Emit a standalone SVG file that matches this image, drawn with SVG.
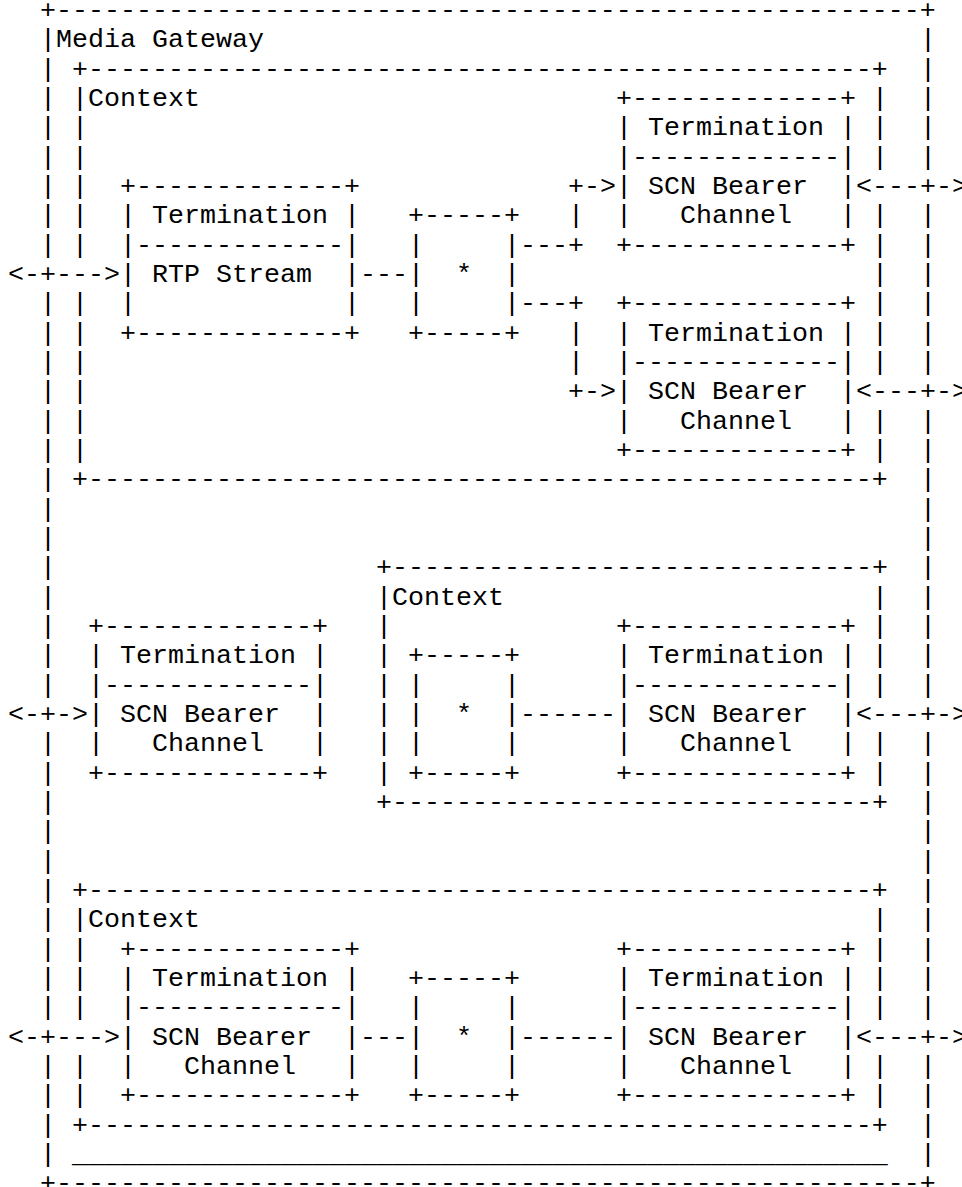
<svg xmlns="http://www.w3.org/2000/svg" width="962" height="1187" viewBox="0 0 962 1187">
<style>
text{font-family:"Liberation Mono","DejaVu Sans Mono",monospace;font-size:26.667px;fill:#000;white-space:pre}
</style>
<rect width="962" height="1187" fill="#fff"/>
<g id="media-gateway">
<text x="40" y="18">+------------------------------------------------------+</text>
<text x="56" y="47.3">Media Gateway</text>
<text x="40 40 40 40 40 40 40 40 40 40 40 40 40 40 40 40 40 40 40 40 40 40 40 40 40 40 40 40 40 40 40 40 40 40 40 40" y="47.3 76.7 106 135.3 164.7 194 223.3 252.7 311.3 340.7 370 399.3 428.7 458 487.3 516.7 546 575.3 604.7 634 663.3 692.7 751.3 780.7 810 839.3 868.7 898 927.3 956.7 986 1015.3 1074 1103.3 1132.7 1162">||||||||||||||||||||||||||||||||||||</text>
<text x="920 920 920 920 920 920 920 920 920 920 920 920 920 920 920 920 920 920 920 920 920 920 920 920 920 920 920 920 920 920 920 920 920 920 920" y="47.3 76.7 106 135.3 164.7 223.3 252.7 282 311.3 340.7 370 428.7 458 487.3 516.7 546 575.3 604.7 634 663.3 692.7 751.3 780.7 810 839.3 868.7 898 927.3 956.7 986 1015.3 1074 1103.3 1132.7 1162">|||||||||||||||||||||||||||||||||||</text>
<text x="72" y="1162">___________________________________________________</text>
<text x="40" y="1191.3">+------------------------------------------------------+</text>
</g>
<g id="context-1">
<text x="72" y="76.7">+-------------------------------------------------+</text>
<text x="88" y="106">Context</text>
<text x="72 72 72 72 72 72 72 72 72 72 72 72" y="106 135.3 164.7 194 223.3 252.7 311.3 340.7 370 399.3 428.7 458">||||||||||||</text>
<text x="872 872 872 872 872 872 872 872 872 872 872" y="106 135.3 164.7 223.3 252.7 282 311.3 340.7 370 428.7 458">|||||||||||</text>
<text x="72" y="487.3">+-------------------------------------------------+</text>
</g>
<g id="context-2">
<text x="376" y="575.3">+------------------------------+</text>
<text x="392" y="604.7">Context</text>
<text x="376 376 376 376 376 376 376" y="604.7 634 663.3 692.7 722 751.3 780.7">|||||||</text>
<text x="872 872 872 872 872 872" y="604.7 634 663.3 692.7 751.3 780.7">||||||</text>
<text x="376" y="810">+------------------------------+</text>
</g>
<g id="context-3">
<text x="72" y="898">+-------------------------------------------------+</text>
<text x="88" y="927.3">Context</text>
<text x="72 72 72 72 72 72" y="927.3 956.7 986 1015.3 1074 1103.3">||||||</text>
<text x="872 872 872 872 872 872" y="927.3 956.7 986 1015.3 1074 1103.3">||||||</text>
<text x="72" y="1132.7">+-------------------------------------------------+</text>
</g>
<g id="term-rtp">
<text x="120" y="194">+-------------+</text>
<text x="120" y="223.3">| Termination |</text>
<text x="120" y="252.7">|-------------|</text>
<text x="120" y="282">| RTP Stream  |</text>
<text x="120" y="311.3">|             |</text>
<text x="120" y="340.7">+-------------+</text>
</g>
<g id="term-scn-1">
<text x="616" y="106">+-------------+</text>
<text x="616" y="135.3">| Termination |</text>
<text x="616" y="164.7">|-------------|</text>
<text x="616" y="194">| SCN Bearer  |</text>
<text x="616" y="223.3">|   Channel   |</text>
<text x="616" y="252.7">+-------------+</text>
</g>
<g id="term-scn-2">
<text x="616" y="311.3">+-------------+</text>
<text x="616" y="340.7">| Termination |</text>
<text x="616" y="370">|-------------|</text>
<text x="616" y="399.3">| SCN Bearer  |</text>
<text x="616" y="428.7">|   Channel   |</text>
<text x="616" y="458">+-------------+</text>
</g>
<g id="term-scn-3">
<text x="88" y="634">+-------------+</text>
<text x="88" y="663.3">| Termination |</text>
<text x="88" y="692.7">|-------------|</text>
<text x="88" y="722">| SCN Bearer  |</text>
<text x="88" y="751.3">|   Channel   |</text>
<text x="88" y="780.7">+-------------+</text>
</g>
<g id="term-scn-4">
<text x="616" y="634">+-------------+</text>
<text x="616" y="663.3">| Termination |</text>
<text x="616" y="692.7">|-------------|</text>
<text x="616" y="722">| SCN Bearer  |</text>
<text x="616" y="751.3">|   Channel   |</text>
<text x="616" y="780.7">+-------------+</text>
</g>
<g id="term-scn-5">
<text x="120" y="956.7">+-------------+</text>
<text x="120" y="986">| Termination |</text>
<text x="120" y="1015.3">|-------------|</text>
<text x="120" y="1044.7">| SCN Bearer  |</text>
<text x="120" y="1074">|   Channel   |</text>
<text x="120" y="1103.3">+-------------+</text>
</g>
<g id="term-scn-6">
<text x="616" y="956.7">+-------------+</text>
<text x="616" y="986">| Termination |</text>
<text x="616" y="1015.3">|-------------|</text>
<text x="616" y="1044.7">| SCN Bearer  |</text>
<text x="616" y="1074">|   Channel   |</text>
<text x="616" y="1103.3">+-------------+</text>
</g>
<g id="star-1">
<text x="408" y="223.3">+-----+</text>
<text x="408" y="252.7">|     |</text>
<text x="408" y="282">|  *  |</text>
<text x="408" y="311.3">|     |</text>
<text x="408" y="340.7">+-----+</text>
</g>
<g id="star-2">
<text x="408" y="663.3">+-----+</text>
<text x="408" y="692.7">|     |</text>
<text x="408" y="722">|  *  |</text>
<text x="408" y="751.3">|     |</text>
<text x="408" y="780.7">+-----+</text>
</g>
<g id="star-3">
<text x="408" y="986">+-----+</text>
<text x="408" y="1015.3">|     |</text>
<text x="408" y="1044.7">|  *  |</text>
<text x="408" y="1074">|     |</text>
<text x="408" y="1103.3">+-----+</text>
</g>
<g id="connectors">
<text x="8" y="282">&lt;-+---&gt;</text>
<text x="360" y="282">---</text>
<text x="520" y="252.7">---+</text>
<text x="568" y="223.3">|</text>
<text x="568" y="194">+-&gt;</text>
<text x="520" y="311.3">---+</text>
<text x="568 568" y="340.7 370">||</text>
<text x="568" y="399.3">+-&gt;</text>
<text x="856" y="194">&lt;---+-&gt;</text>
<text x="856" y="399.3">&lt;---+-&gt;</text>
<text x="8" y="722">&lt;-+-&gt;</text>
<text x="520" y="722">------</text>
<text x="856" y="722">&lt;---+-&gt;</text>
<text x="8" y="1044.7">&lt;-+---&gt;</text>
<text x="360" y="1044.7">---</text>
<text x="520" y="1044.7">------</text>
<text x="856" y="1044.7">&lt;---+-&gt;</text>
</g>
</svg>
